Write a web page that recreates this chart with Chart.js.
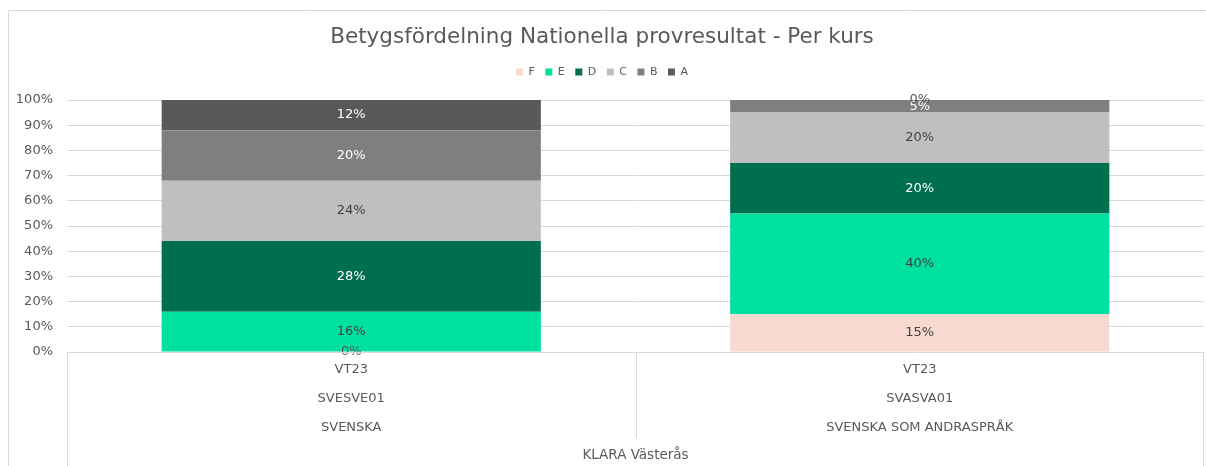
<!DOCTYPE html>
<html>
<head>
<meta charset="utf-8">
<script src="https://cdn.jsdelivr.net/npm/chart.js@4.4.1/dist/chart.umd.min.js"></script>
<style>
  html, body { margin: 0; padding: 0; background: #ffffff; }
  #wrap { width: 1206px; height: 466px; }
</style>
</head>
<body>
<div id="wrap"><canvas id="c" width="1206" height="466"></canvas></div>
<script>
// ---- data ----
const categories = [
  ['VT23', 'SVESVE01', 'SVENSKA'],
  ['VT23', 'SVASVA01', 'SVENSKA SOM ANDRASPRÅK']
];
const groupLabel = 'KLARA Västerås';
const gradeF = [0, 15];
const gradeE = [16, 40];
const gradeD = [28, 20];
const gradeC = [24, 20];
const gradeB = [20, 5];
const gradeA = [12, 0];
const yTicks = [0, 10, 20, 30, 40, 50, 60, 70, 80, 90, 100];

const FONT = "'DejaVu Sans', 'Open Sans', sans-serif";
const GRID = '#d9d9d9';
const TEXT = '#595959';

const seriesDefs = [
  { label: 'F', data: gradeF, color: '#F7D9D0', text: '#404040' },
  { label: 'E', data: gradeE, color: '#00E0A1', text: '#404040' },
  { label: 'D', data: gradeD, color: '#006F4F', text: '#ffffff' },
  { label: 'C', data: gradeC, color: '#BFBFBF', text: '#404040' },
  { label: 'B', data: gradeB, color: '#7F7F7F', text: '#ffffff' },
  { label: 'A', data: gradeA, color: '#595959', text: '#ffffff' }
];

const datasets = seriesDefs.map(s => ({
  label: s.label,
  data: s.data,
  backgroundColor: s.color,
  borderWidth: 0,
  barPercentage: 0.667,
  categoryPercentage: 1.0,
  labelColor: s.text
}));

// frame + multi-level axis box
const framePlugin = {
  id: 'frame',
  beforeDraw(chart) {
    const ctx = chart.ctx;
    ctx.save();
    ctx.strokeStyle = GRID;
    ctx.lineWidth = 1;
    ctx.beginPath();
    ctx.moveTo(8.5, chart.height);
    ctx.lineTo(8.5, 10.5);
    ctx.lineTo(chart.width, 10.5);
    ctx.stroke();
    ctx.restore();
  },
  afterDraw(chart) {
    const ctx = chart.ctx;
    const a = chart.chartArea;
    const xs = chart.scales.x;
    const mid = (xs.getPixelForValue(0) + xs.getPixelForValue(1)) / 2;
    ctx.save();
    ctx.strokeStyle = GRID;
    ctx.lineWidth = 1;
    ctx.beginPath();
    ctx.moveTo(Math.round(a.left) + 0.5, chart.height);
    ctx.lineTo(Math.round(a.left) + 0.5, Math.round(a.bottom) + 0.5);
    ctx.lineTo(Math.round(a.right) - 0.5, Math.round(a.bottom) + 0.5);
    ctx.lineTo(Math.round(a.right) - 0.5, chart.height);
    ctx.moveTo(Math.round(mid) + 0.5, Math.round(a.bottom) + 0.5);
    ctx.lineTo(Math.round(mid) + 0.5, Math.round(a.bottom) + 86);
    ctx.stroke();
    ctx.restore();
  }
};

// value labels at segment centres
const labelPlugin = {
  id: 'segLabels',
  afterDatasetsDraw(chart) {
    const ctx = chart.ctx;
    ctx.save();
    ctx.font = '13px ' + FONT;
    ctx.textAlign = 'center';
    ctx.textBaseline = 'middle';
    chart.data.datasets.forEach((ds, i) => {
      const meta = chart.getDatasetMeta(i);
      meta.data.forEach((el, j) => {
        const v = ds.data[j];
        ctx.fillStyle = v === 0 ? TEXT : ds.labelColor;
        ctx.fillText(v + '%', el.x, (el.y + el.base) / 2);
      });
    });
    ctx.restore();
  }
};

new Chart(document.getElementById('c'), {
  type: 'bar',
  data: { labels: categories, datasets },
  options: {
    responsive: false,
    animation: false,
    layout: { padding: { left: 0, right: 2, top: 0, bottom: 0 } },
    plugins: {
      title: {
        display: true,
        text: 'Betygsfördelning Nationella provresultat - Per kurs',
        color: TEXT,
        font: { family: FONT, size: 21.5, weight: 'normal', lineHeight: 1.1163 },
        padding: { top: 25.5, bottom: 6.5 }
      },
      subtitle: {
        display: true,
        text: '',
        weight: 500,
        font: { size: 10, lineHeight: 1.25 },
        padding: 0
      },
      legend: {
        display: true,
        position: 'top',
        labels: {
          boxWidth: 7,
          boxHeight: 7,
          padding: 10.5,
          color: TEXT,
          font: { family: FONT, size: 11 }
        }
      },
      tooltip: { enabled: false }
    },
    scales: {
      x: {
        stacked: true,
        afterFit(scale) { scale.height = 114; },
        grid: { display: false, drawTicks: false },
        border: { display: false },
        ticks: {
          color: TEXT,
          padding: 3.5,
          font: { family: FONT, size: 13, lineHeight: '29px' },
          maxRotation: 0,
          autoSkip: false
        },
        title: {
          display: true,
          text: groupLabel,
          color: TEXT,
          font: { family: FONT, size: 13.5 },
          padding: { top: 3, bottom: 2 }
        }
      },
      y: {
        stacked: true,
        min: 0,
        max: 100,
        afterFit(scale) { scale.width = 67; },
        afterBuildTicks(scale) { scale.ticks = yTicks.map(v => ({ value: v })); },
        grid: { color: GRID, drawTicks: false },
        border: { display: false },
        ticks: {
          color: TEXT,
          padding: 14,
          font: { family: FONT, size: 13 },
          callback: v => v + '%'
        }
      }
    }
  },
  plugins: [framePlugin, labelPlugin]
});
</script>
</body>
</html>
